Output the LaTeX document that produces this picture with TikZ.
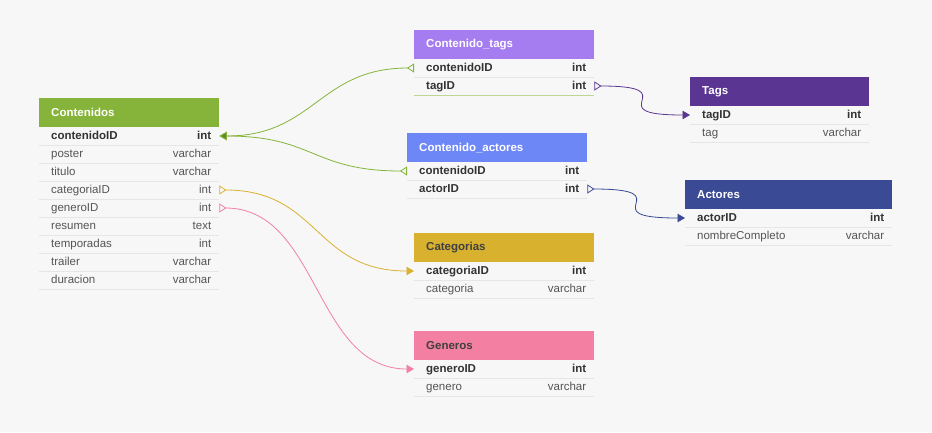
\documentclass[tikz,border=0pt]{standalone}
\usepackage{fontspec}
\setmainfont{Liberation Sans}
\usetikzlibrary{arrows.meta}
\definecolor{bg}{HTML}{F7F7F7}
\definecolor{sepgray}{HTML}{E6E6E6}
\definecolor{fldgray}{HTML}{555555}
\definecolor{keygray}{HTML}{333333}
\definecolor{cgreen}{HTML}{86B43A}
\definecolor{ctags}{HTML}{A57DF0}
\definecolor{cact}{HTML}{6E87F7}
\definecolor{tagsc}{HTML}{5A3591}
\definecolor{actc}{HTML}{3B4A94}
\definecolor{catc}{HTML}{D8B22F}
\definecolor{genc}{HTML}{F37FA2}
\tikzset{
  hdr/.style={fill=#1, anchor=north west, minimum height=29pt, inner xsep=12pt, inner ysep=0pt,
    text=white, font=\fontsize{11.5}{13}\selectfont\bfseries, align=left},
  sep/.style={draw=sepgray, line width=0.8pt},
  fld/.style={anchor=west, minimum height=18pt, inner xsep=12pt, inner ysep=0pt,
    text height=8.5pt, text depth=2.5pt, align=left, text=fldgray,
    font=\fontsize{11.5}{13}\selectfont,
    append after command={(\tikzlastnode.south west) edge[sep] (\tikzlastnode.south east)}},
  key/.style={fld, text=keygray, font=\fontsize{11.5}{13}\selectfont\bfseries},
  typ/.style={anchor=east, xshift=-8pt, inner sep=0pt, text height=8.5pt, text depth=2.5pt,
    text=fldgray, font=\fontsize{11.5}{13}\selectfont},
  t/.style={label={[typ]east:#1}},
  kt/.style={label={[typ, text=keygray, font=\fontsize{11.5}{13}\selectfont\bfseries]east:#1}},
  lnk/.style={draw=#1, line width=0.8pt},
  one/.tip={Triangle[length=7.5pt, width=8.5pt]},
  many/.tip={Triangle[open, reversed, length=7pt, width=9pt]},
}
\begin{document}
\begin{tikzpicture}[x=1pt, y=-1pt]
  \useasboundingbox[fill=bg] (0,0) rectangle (932,432);

  % Contenidos
  \node [hdr=cgreen, text width=156pt] (contenidos) at (39,98) {Contenidos};
  \node [key, kt=int, text width=156pt] (c-contenidoID) at (39,136) {contenidoID};
  \node [fld, t=varchar, text width=156pt] (c-poster) at (39,154) {poster};
  \node [fld, t=varchar, text width=156pt] (c-titulo) at (39,172) {titulo};
  \node [fld, t=int, text width=156pt] (c-categoriaID) at (39,190) {categoriaID};
  \node [fld, t=int, text width=156pt] (c-generoID) at (39,208) {generoID};
  \node [fld, t=text, text width=156pt] (c-resumen) at (39,226) {resumen};
  \node [fld, t=int, text width=156pt] (c-temporadas) at (39,244) {temporadas};
  \node [fld, t=varchar, text width=156pt] (c-trailer) at (39,262) {trailer};
  \node [fld, t=varchar, text width=156pt] (c-duracion) at (39,280) {duracion};

  % Contenido_tags
  \node [hdr=ctags, text width=156pt] (contenido_tags) at (414,30) {Contenido\_tags};
  \node [key, kt=int, text width=156pt] (ct-contenidoID) at (414,68) {contenidoID};
  \node [key, kt=int, text width=156pt] (ct-tagID) at (414,86) {tagID};
  \draw [sep, draw=cgreen!55] (ct-tagID.south west) -- (ct-tagID.south east);

  % Contenido_actores
  \node [hdr=cact, text width=156pt] (contenido_actores) at (407,133) {Contenido\_actores};
  \node [key, kt=int, text width=156pt] (ca-contenidoID) at (407,171) {contenidoID};
  \node [key, kt=int, text width=156pt] (ca-actorID) at (407,189) {actorID};

  % Tags
  \node [hdr=tagsc, text width=155pt] (tags) at (690,77) {Tags};
  \node [key, kt=int, text width=155pt] (t-tagID) at (690,115) {tagID};
  \node [fld, t=varchar, text width=155pt] (t-tag) at (690,133) {tag};

  % Actores
  \node [hdr=actc, text width=183pt] (actores) at (685,180) {Actores};
  \node [key, kt=int, text width=183pt] (a-actorID) at (685,218) {actorID};
  \node [fld, t=varchar, text width=183pt] (a-nombreCompleto) at (685,236) {nombreCompleto};

  % Categorias
  \node [hdr=catc, text=black!75, text width=156pt] (categorias) at (414,233) {Categorias};
  \node [key, kt=int, text width=156pt] (cat-categoriaID) at (414,271) {categoriaID};
  \node [fld, t=varchar, text width=156pt] (cat-categoria) at (414,289) {categoria};

  % Generos
  \node [hdr=genc, text=black!75, text width=156pt] (generos) at (414,331) {Generos};
  \node [key, kt=int, text width=156pt] (g-generoID) at (414,369) {generoID};
  \node [fld, t=varchar, text width=156pt] (g-genero) at (414,387) {genero};

  % relaciones
  \draw [lnk=cgreen, {one[fill=cgreen!75!black]}-many] (c-contenidoID.east) .. controls +(95,0) and +(-95,0) .. (ct-contenidoID.west);
  \draw [lnk=cgreen, {one[fill=cgreen!75!black]}-many] (c-contenidoID.east) .. controls +(95,0) and +(-95,0) .. (ca-contenidoID.west);
  \draw [lnk=tagsc, many-one] (ct-tagID.east) .. controls +(96,0) and +(-96,0) .. (t-tagID.west);
  \draw [lnk=actc, many-one] (ca-actorID.east) .. controls +(98,0) and +(-98,0) .. (a-actorID.west);
  \draw [lnk=catc, many-one] (c-categoriaID.east) .. controls +(100,0) and +(-100,0) .. (cat-categoriaID.west);
  \draw [lnk=genc, many-one] (c-generoID.east) .. controls +(100,0) and +(-100,0) .. (g-generoID.west);
\end{tikzpicture}
\end{document}
